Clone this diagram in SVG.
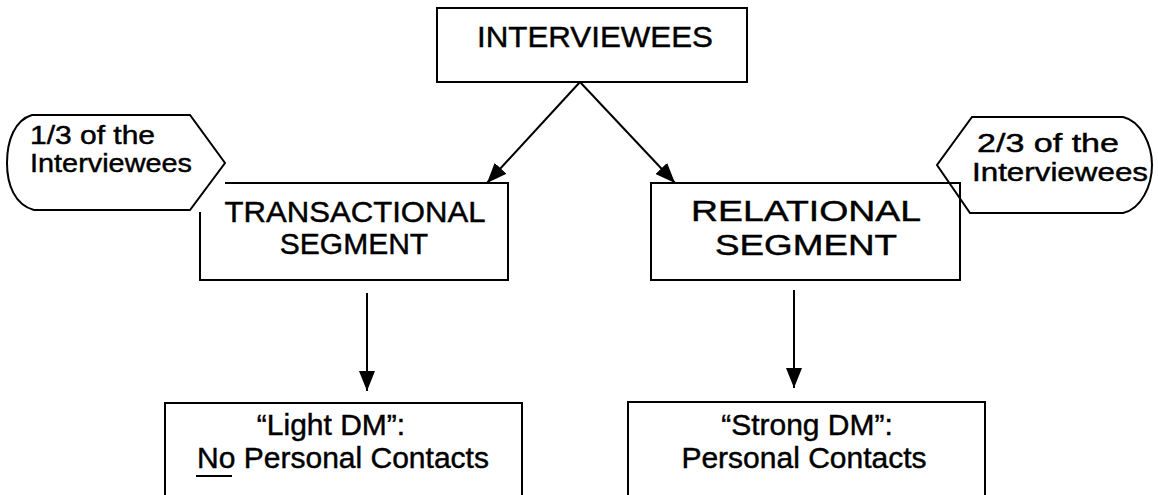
<svg xmlns="http://www.w3.org/2000/svg" width="1158" height="495" viewBox="0 0 1158 495">
  <defs>
    <marker id="arrow" markerUnits="userSpaceOnUse" markerWidth="20" markerHeight="16" refX="20" refY="8" orient="auto">
      <path d="M0,0 L20,8 L0,16 Z" fill="#000"/>
    </marker>
    <style>
      .box { fill: #fff; stroke: #000; stroke-width: 2; }
      .open { fill: none; stroke: #000; stroke-width: 2; }
      .link { fill: none; stroke: #000; stroke-width: 2; marker-end: url(#arrow); }
      .t { font-family: "Liberation Sans", Arial, sans-serif; fill: #000; stroke: #000; stroke-width: 0.45; }
      .big { font-size: 30px; text-anchor: middle; }
      .small { font-size: 26px; }
    </style>
  </defs>
  <rect width="1158" height="495" fill="#fff"/>

  <!-- connectors -->
  <g id="connectors">
    <line class="link" x1="580" y1="82" x2="487" y2="183"/>
    <line class="link" x1="580" y1="82" x2="675" y2="183"/>
    <line class="link" x1="367" y1="293" x2="367" y2="391"/>
    <line class="link" x1="794" y1="290" x2="794" y2="388"/>
  </g>

  <!-- root -->
  <g id="interviewees">
    <rect class="box" x="437" y="8" width="310" height="74"/>
    <text class="t big" x="595" y="47" textLength="236" lengthAdjust="spacingAndGlyphs">INTERVIEWEES</text>
  </g>

  <!-- left segment (its top-left corner sits under the callout) -->
  <g id="transactional">
    <path class="open" d="M225,183 H508 V280 H200 V212"/>
    <text class="t big" x="355" y="222" textLength="261" lengthAdjust="spacingAndGlyphs">TRANSACTIONAL</text>
    <text class="t big" x="354" y="254">SEGMENT</text>
  </g>

  <g id="callout-left">
    <path class="box" d="M32,115 H190 L225,163 L190,210 H34 C15,205 7,185 7,163 C7,140 15,120 32,115 Z"/>
    <text class="t small" x="30" y="144" textLength="125" lengthAdjust="spacingAndGlyphs">1/3 of the</text>
    <text class="t small" x="30" y="172" textLength="162" lengthAdjust="spacingAndGlyphs">Interviewees</text>
  </g>

  <!-- right callout sits behind the right segment box -->
  <g id="callout-right">
    <path class="box" d="M972,117 H1123 C1141,121 1152,145 1152,165 C1152,186 1141,209 1123,213 H970 L937,165 Z"/>
    <text class="t small" x="977" y="152" textLength="142" lengthAdjust="spacingAndGlyphs">2/3 of the</text>
    <text class="t small" x="972" y="181" textLength="176" lengthAdjust="spacingAndGlyphs">Interviewees</text>
  </g>

  <g id="relational">
    <path class="open" d="M651,183 H960 V280 H651 Z"/>
    <text class="t big" x="806" y="221" textLength="230" lengthAdjust="spacingAndGlyphs">RELATIONAL</text>
    <text class="t big" x="806" y="255" textLength="182" lengthAdjust="spacingAndGlyphs">SEGMENT</text>
  </g>

  <g id="light-dm">
    <rect class="box" x="165" y="403" width="357" height="110"/>
    <text class="t big" x="331" y="435">“Light DM”:</text>
    <text class="t big" x="343" y="468">No Personal Contacts</text>
    <line x1="196" y1="476" x2="232" y2="476" stroke="#000" stroke-width="2"/>
  </g>

  <g id="strong-dm">
    <rect class="box" x="628" y="402" width="357" height="110"/>
    <text class="t big" x="807" y="435">“Strong DM”:</text>
    <text class="t big" x="804" y="468">Personal Contacts</text>
  </g>
</svg>
